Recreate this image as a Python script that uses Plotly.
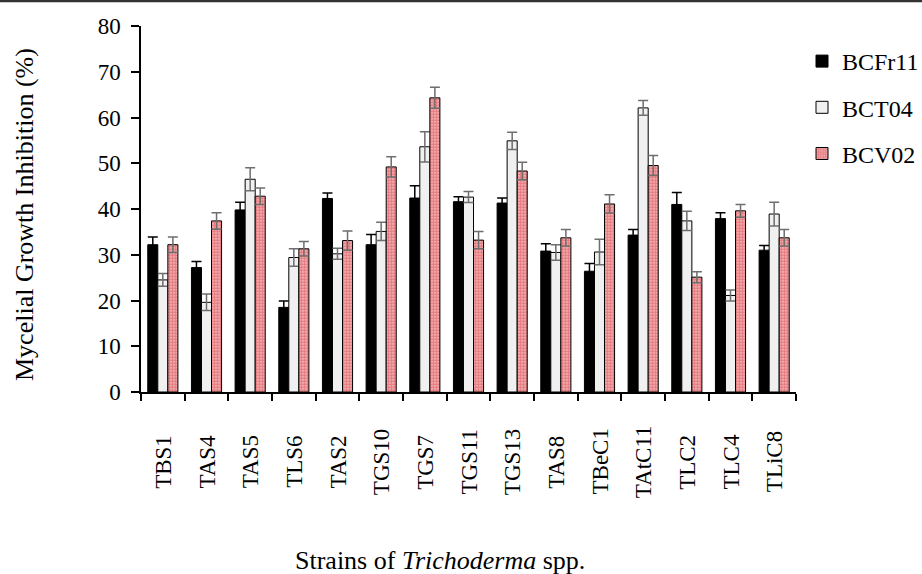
import plotly.graph_objects as go

strains = ["TBS1", "TAS4", "TAS5", "TLS6", "TAS2", "TGS10", "TGS7", "TGS11",
           "TGS13", "TAS8", "TBeC1", "TAtC11", "TLC2", "TLC4", "TLiC8"]

bcfr11 = [32.2, 27.2, 39.8, 18.5, 42.3, 32.2, 42.4, 41.6, 41.3, 30.8, 26.4, 34.3, 41.0, 37.9, 31.0]
bcfr11_err = [1.7, 1.3, 1.7, 1.4, 1.2, 2.2, 2.7, 1.1, 1.1, 1.6, 1.7, 1.2, 2.6, 1.3, 1.0]

bct04 = [24.5, 19.6, 46.5, 29.4, 30.2, 35.1, 53.6, 42.6, 54.9, 30.5, 30.6, 62.1, 37.4, 21.1, 38.9]
bct04_err = [1.4, 1.8, 2.5, 1.9, 1.2, 2.0, 3.3, 1.2, 1.9, 1.7, 2.8, 1.6, 2.1, 1.2, 2.6]

bcv02 = [32.2, 37.4, 42.8, 31.3, 33.1, 49.2, 64.3, 33.2, 48.3, 33.7, 41.1, 49.5, 25.1, 39.6, 33.7]
bcv02_err = [1.7, 1.8, 1.8, 1.6, 2.1, 2.2, 2.3, 1.9, 1.9, 1.8, 2.0, 2.2, 1.2, 1.4, 1.8]

FONT = "Liberation Serif"

W, H = 922, 574
ML, MR, MT, MB = 141, 126, 26, 182
PW = W - ML - MR
PH = H - MT - MB

fig = go.Figure()
fig.add_trace(go.Bar(
    name="BCFr11", x=strains, y=bcfr11, legendgroup="a",
    marker=dict(color="black", line=dict(color="black", width=1)),
    error_y=dict(type="data", array=bcfr11_err, visible=True, color="black",
                 thickness=1.5, width=5),
))
fig.add_trace(go.Bar(
    name="BCT04", x=strains, y=bct04, legendgroup="b",
    marker=dict(color="#f0f0f0", line=dict(color="black", width=1)),
    error_y=dict(type="data", array=bct04_err, visible=True, color="#6e6e6e",
                 thickness=1.5, width=5),
))
fig.add_trace(go.Bar(
    name="BCV02", x=strains, y=bcv02, legendgroup="c",
    marker=dict(color="#f5c8c8", line=dict(color="black", width=1),
                pattern=dict(shape=".", fgcolor="#d8303a", size=3, solidity=0.75)),
    error_y=dict(type="data", array=bcv02_err, visible=True, color="#6e6e6e",
                 thickness=1.5, width=5),
))

annotations = [dict(
    text=s, x=s, xref="x", yref="paper", y=-(462 - 392) / PH,
    xanchor="center", yanchor="middle", textangle=-90, showarrow=False,
    font=dict(family=FONT, size=23, color="black"),
) for s in strains]
annotations.append(dict(
    text="Strains of <i>Trichoderma</i> spp.", xref="paper", yref="paper",
    x=(440 - ML) / PW, y=-(560 - 392) / PH, xanchor="center", yanchor="middle",
    showarrow=False, font=dict(family=FONT, size=26, color="black"),
))
annotations.append(dict(
    text="Mycelial Growth Inhibition (%)", xref="paper", yref="paper",
    x=(24 - ML) / PW, y=(392 - 215) / PH, xanchor="center", yanchor="middle",
    textangle=-90, showarrow=False, font=dict(family=FONT, size=26, color="black"),
))

fig.update_layout(
    width=W, height=H,
    margin=dict(l=ML, r=MR, t=MT, b=MB, autoexpand=False),
    paper_bgcolor="white", plot_bgcolor="white",
    font=dict(family=FONT, size=23, color="black"),
    barmode="group", bargap=0.31, bargroupgap=0,
    showlegend=True,
    legend=dict(xref="container", yref="container", x=802 / W, xanchor="left",
                y=1 - 39 / H, yanchor="top",
                font=dict(family=FONT, size=24, color="black"), traceorder="grouped",
                tracegroupgap=12, itemwidth=30, bgcolor="rgba(0,0,0,0)"),
    xaxis=dict(
        type="category", tickson="boundaries", ticks="outside", ticklen=7,
        tickcolor="black", tickwidth=1.5, showline=True, linecolor="black",
        linewidth=1.5, showticklabels=False, showgrid=False, zeroline=False,
    ),
    yaxis=dict(
        range=[0, 80], dtick=10, ticks="outside", ticklen=8, tickcolor="black",
        tickwidth=1.5, showline=True, linecolor="black", linewidth=1.5,
        showgrid=False, zeroline=False, tickfont=dict(family=FONT, size=23),
        ticklabelstandoff=6,
    ),
    annotations=annotations,
    shapes=[dict(type="line", xref="paper", yref="paper",
                 x0=-ML / PW, x1=1 + MR / PW, y0=1 + 25 / PH, y1=1 + 25 / PH,
                 line=dict(color="#333333", width=2.5))],
)

fig.write_html("out.html", config={"displayModeBar": False},
               post_script="document.body.style.margin='0px';")
